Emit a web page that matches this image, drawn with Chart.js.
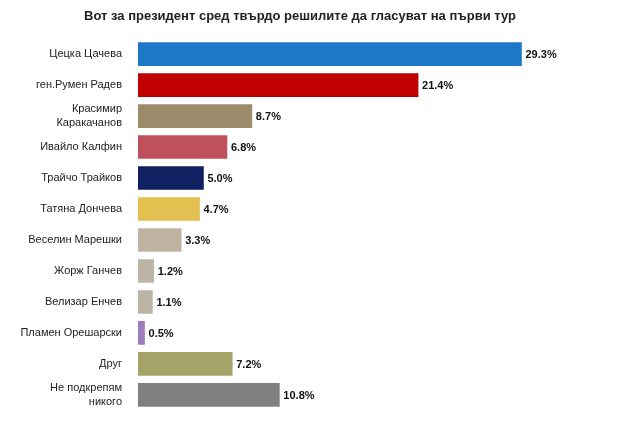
<!DOCTYPE html>
<html><head><meta charset="utf-8">
<script src="https://cdn.jsdelivr.net/npm/chart.js@4"></script>
<style>html,body{margin:0;background:#fff}#w{width:618px;height:425px}</style>
</head><body><div id="w"><canvas id="c"></canvas></div>
<script>
const categories=[["Цецка Цачева"],["ген.Румен Радев"],["Красимир","Каракачанов"],["Ивайло Калфин"],["Трайчо Трайков"],["Татяна Дончева"],["Веселин Марешки"],["Жорж Ганчев"],["Велизар Енчев"],["Пламен Орешарски"],["Друг"],["Не подкрепям","никого"]];
const values=[29.3,21.4,8.7,6.8,5.0,4.7,3.3,1.2,1.1,0.5,7.2,10.8];
const colors=["#1e78c8","#c00000","#9c8c6c","#c0505c","#102060","#e4c050","#c0b4a0","#bcb4a4","#bcb4a4","#a07cbc","#a4a468","#808080"];
const labelPlugin={id:'lbl',afterDatasetsDraw(ch){const ctx=ch.ctx;const m=ch.getDatasetMeta(0);ctx.save();ctx.font='bold 11px Arial, "Liberation Sans"';ctx.fillStyle='#111';ctx.textBaseline='middle';m.data.forEach((b,i)=>{ctx.fillText(values[i].toFixed(1)+'%',b.x+4,b.y+1);});ctx.restore();}};
new Chart(document.getElementById('c'),{type:'bar',data:{labels:categories,datasets:[{data:values,backgroundColor:colors,barThickness:23}]},
options:{indexAxis:'y',responsive:true,maintainAspectRatio:false,animation:false,
layout:{padding:{top:9,bottom:14,right:18}},
plugins:{legend:{display:false},tooltip:{enabled:false},title:{display:true,text:'Вот за президент сред твърдо решилите да гласуват на първи тур',font:{size:13,weight:'bold',family:'Arial, "Liberation Sans"'},color:'#222',padding:{top:0,bottom:14}}},
scales:{x:{display:false,min:0,max:35.3},y:{grid:{display:false},border:{display:false},ticks:{color:'#222',font:{size:11,family:'Arial, "Liberation Sans"'},padding:8},afterFit(s){s.width=138;}}}},
plugins:[labelPlugin]});
</script></body></html>
